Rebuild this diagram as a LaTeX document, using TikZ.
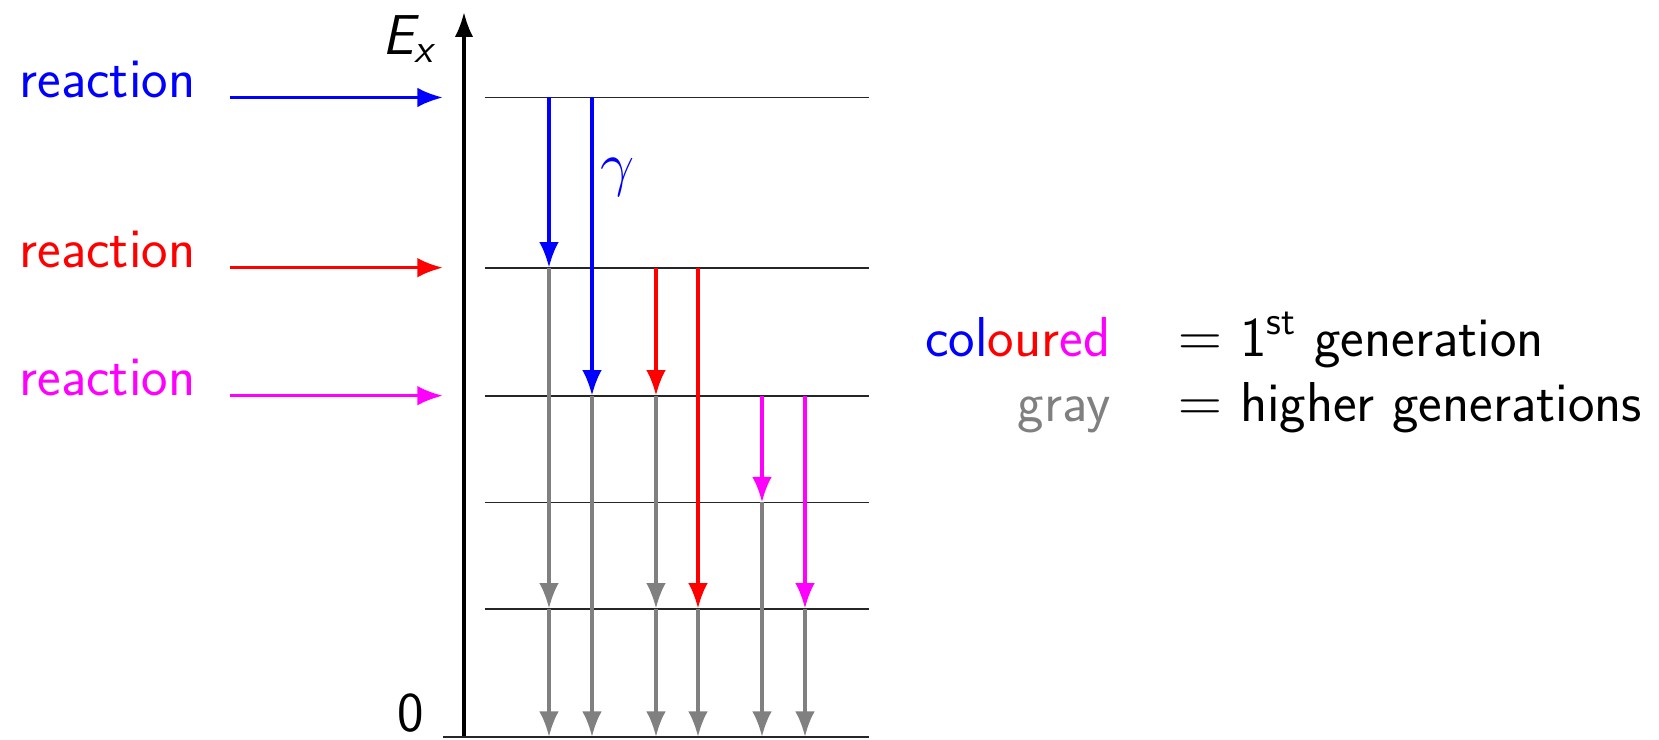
\documentclass[tikz,border=0pt]{standalone}
\usetikzlibrary{arrows.meta}
\renewcommand{\familydefault}{\sfdefault}
\definecolor{cblue}{RGB}{0,0,255}
\definecolor{cred}{RGB}{255,0,0}
\definecolor{cmag}{RGB}{255,0,255}
\definecolor{cgray}{RGB}{128,128,128}

\begin{document}
\begin{tikzpicture}[
    font=\fontsize{16}{19}\selectfont,
    every node/.style={inner sep=0pt},
    level/.style={line width=0.5pt, black!85},
    trans/.style={line width=1pt, -{Latex[length=2.55mm,width=1.95mm]}}]
  \useasboundingbox (-4.64,-0.03) rectangle (11.95,7.37);
  % osa energije
  \draw[line width=1pt, -{Latex[length=2.5mm,width=1.85mm]}] (0,0) -- (0,7.25);
  \node[anchor=base east] (ex) at (-0.31,6.82)
    {\itshape E\raisebox{-2.2pt}{\fontsize{11.5}{13}\selectfont x}};
  \node[anchor=base east] (zero) at (-0.39,0.05) {0};
  \draw[level] (-0.21,0) -- (4.05,0);
  % nivoi
  \foreach \y in {6.395, 4.693, 3.413, 2.345, 1.283}
    \draw[level] (0.21,\y) -- (4.05,\y);
  % reakcije
  \foreach \y/\c in {6.395/cblue, 4.693/cred, 3.413/cmag} {
    \node[anchor=base east, text=\c] (r-\c) at (-2.68,\y) {reaction};
    \draw[trans, \c] (-2.34,\y) -- (-0.21,\y);
  }
  % prva generacija
  \foreach \x/\a/\b/\c in {0.85/6.395/4.693/cblue, 1.28/6.395/3.413/cblue,
      1.92/4.693/3.413/cred, 2.34/4.693/1.283/cred,
      2.98/3.413/2.345/cmag, 3.41/3.413/1.283/cmag}
    \draw[trans, \c] (\x,\a) -- (\x,\b);
  \node[anchor=base west, cblue] (gamma) at (1.36,5.52) {$\gamma$};
  % vise generacije
  \foreach \x/\a/\b in {0.85/4.693/1.283, 0.85/1.283/0, 1.28/3.413/0,
      1.92/3.413/1.283, 1.92/1.283/0, 2.34/1.283/0, 2.98/2.345/0, 3.41/1.283/0}
    \draw[trans, cgray] (\x,\a) -- (\x,\b);
  % legenda
  \node[anchor=base east] (col) at (6.47,3.80)
    {\textcolor{cblue}{col}\textcolor{cred}{our}\textcolor{cmag}{ed}};
  \node[anchor=base west] (first) at (7.14,3.80) {$=$ 1\textsuperscript{st} generation};
  \node[anchor=base east, cgray] (gry) at (6.47,3.15) {gray};
  \node[anchor=base west] (higher) at (7.14,3.15) {$=$ higher generations};
\end{tikzpicture}
\end{document}
